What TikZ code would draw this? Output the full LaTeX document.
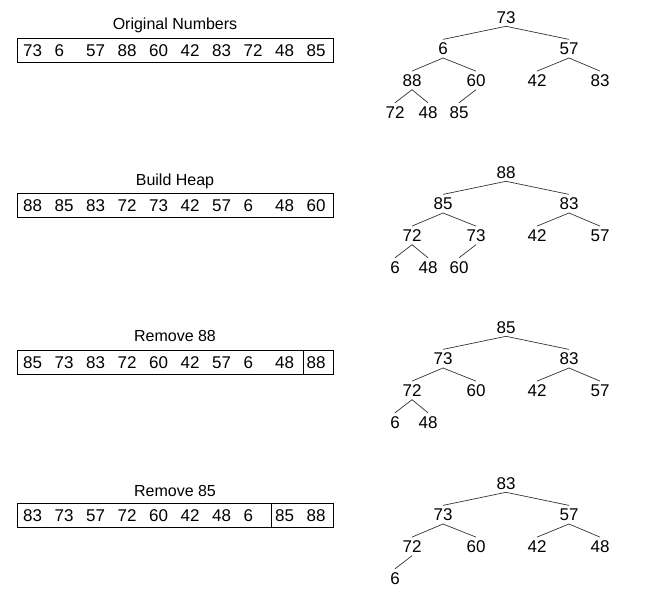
\documentclass[tikz,border=0pt]{standalone}
\usepackage{fontspec}
\setmainfont{Liberation Sans}
\usetikzlibrary{positioning}
\tikzset{
  val/.style={inner sep=3pt, text height=12.2pt, text depth=0pt, font=\fontsize{17}{19}\selectfont},
  caption/.style={inner sep=0pt, text height=11.5pt, text depth=0pt, font=\fontsize{16}{18}\selectfont},
  boxline/.style={draw, line width=0.9pt},
  edge/.style={draw=black!80, line width=0.7pt}
}
% one array row: name, top of box, values
\newcommand\heaprow[3]{%
  \draw[boxline] (17,#2) rectangle (333,#2+24);
  \foreach \v [count=\i] in {#3}
    \node[val, anchor=west] (#1-\i) at (20+31.5*\i-31.5, #2+12) {\v};
}
% one heap tree: name, y of root, values in array order
\newcommand\heaptree[3]{%
  \foreach \v [count=\i] in {#3} {
    \pgfmathsetmacro\tx{{506,443,569,412,476,537,600,395,428,459}[\i-1]}
    \pgfmathtruncatemacro\lev{(\i>1)+(\i>3)+(\i>7)}
    \node[val] (#1-\i) at (\tx, #2+31.7*\lev) {\v};
    \ifnum\i>1
      \pgfmathtruncatemacro\up{floor(\i/2)}
      \draw[edge] (#1-\up.south) -- (#1-\i.north);
    \fi
  }
}
\begin{document}
\begin{tikzpicture}[x=1pt, y=-1pt]
  \useasboundingbox (0,0) rectangle (658,593);
  % Original numbers
  \node[caption] (cap1) at (175,24) {Original Numbers};
  \heaprow{a}{38}{73,6,57,88,60,42,83,72,48,85}
  \heaptree{ta}{17}{73,6,57,88,60,42,83,72,48,85}
  % Build heap
  \node[caption] (cap2) at (175,180) {Build Heap};
  \heaprow{b}{193}{88,85,83,72,73,42,57,6,48,60}
  \heaptree{tb}{172}{88,85,83,72,73,42,57,6,48,60}
  % Remove 88
  \node[caption] (cap3) at (175,336) {Remove 88};
  \heaprow{c}{350}{85,73,83,72,60,42,57,6,48,88}
  \draw[boxline] (303,350) -- (303,374);
  \heaptree{tc}{327}{85,73,83,72,60,42,57,6,48}
  % Remove 85
  \node[caption] (cap4) at (175,491) {Remove 85};
  \heaprow{d}{503}{83,73,57,72,60,42,48,6,85,88}
  \draw[boxline] (271,503) -- (271,527);
  \heaptree{td}{483}{83,73,57,72,60,42,48,6}
\end{tikzpicture}
\end{document}
